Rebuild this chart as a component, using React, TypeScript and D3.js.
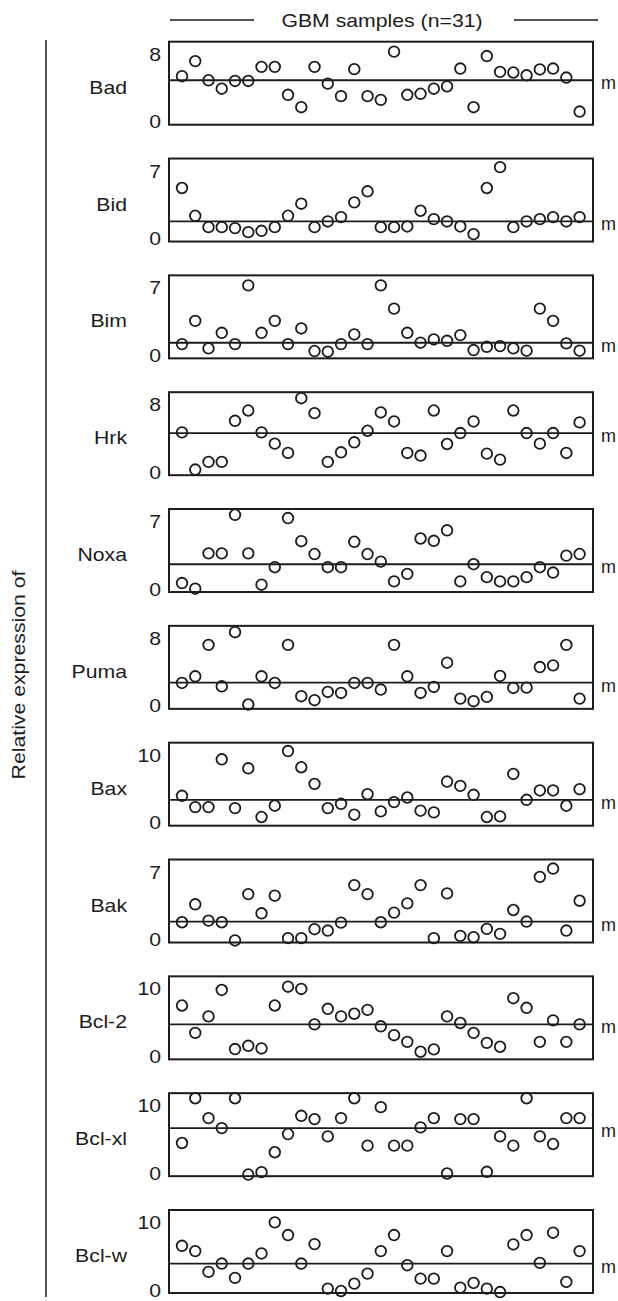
import React from 'react';
import * as d3 from 'd3';

// ---- data ----
const genes = ['Bad', 'Bid', 'Bim', 'Hrk', 'Noxa', 'Puma', 'Bax', 'Bak', 'Bcl-2', 'Bcl-xl', 'Bcl-w'];
const topTicks = [8, 7, 7, 8, 7, 8, 10, 7, 10, 10, 10];
const medians = [4.91, 1.77, 1.31, 4.64, 2.57, 2.75, 3.39, 1.86, 4.74, 6.68, 3.92];

const badValues = [5.39, 7.18, 4.91, 3.91, 4.83, 4.83, 6.5, 6.5, 3.19, 1.72, 6.5, 4.51, 3.03, 6.23, 3.03, 2.59, 8.3, 3.19, 3.31, 3.91, 4.19, 6.3, 1.72, 7.78, 5.9, 5.83, 5.5, 6.19, 6.3, 5.23, 1.2];
const bidValues = [5.24, 2.36, 1.18, 1.18, 1.08, 0.66, 0.8, 1.18, 2.36, 3.61, 1.18, 1.77, 2.22, 3.75, 4.9, 1.18, 1.18, 1.25, 2.88, 2.01, 1.77, 1.25, 0.45, 5.24, 7.4, 1.18, 1.77, 2.01, 2.22, 1.77, 2.22];
const bimValues = [1.17, 3.58, 0.72, 2.34, 1.17, 7.26, 2.34, 3.58, 1.17, 2.79, 0.45, 0.38, 1.17, 2.17, 1.17, 7.26, 4.85, 2.34, 1.31, 1.65, 1.51, 2.1, 0.55, 0.89, 0.96, 0.72, 0.48, 4.85, 3.58, 1.24, 0.48];
const hrkValues = [4.72, 0.31, 1.22, 1.22, 6.09, 7.31, 4.72, 3.38, 2.28, 8.77, 7.0, 1.22, 2.36, 3.54, 4.91, 7.08, 6.01, 2.28, 1.97, 7.31, 3.34, 4.64, 6.01, 2.2, 1.49, 7.31, 4.64, 3.38, 4.64, 2.28, 5.9];
const noxaValues = [0.62, 0.03, 3.7, 3.7, 7.7, 3.7, 0.45, 2.26, 7.36, 4.96, 3.63, 2.26, 2.26, 4.9, 3.63, 2.84, 0.79, 1.57, 5.24, 5.0, 6.09, 0.79, 2.57, 1.23, 0.79, 0.79, 1.23, 2.26, 1.71, 3.46, 3.63];
const pumaValues = [2.71, 3.5, 7.23, 2.32, 8.73, 0.16, 3.5, 2.71, 7.23, 1.14, 0.67, 1.65, 1.53, 2.71, 2.71, 1.93, 7.23, 3.5, 1.53, 2.24, 5.11, 0.86, 0.55, 1.06, 3.54, 2.12, 2.16, 4.6, 4.8, 7.23, 0.86];
const baxValues = [3.98, 2.31, 2.31, 9.39, 2.16, 8.06, 0.84, 2.51, 10.61, 8.21, 5.75, 2.16, 2.8, 1.18, 4.23, 1.67, 3.05, 3.73, 1.77, 1.52, 6.09, 5.45, 4.13, 0.84, 0.93, 7.22, 3.39, 4.77, 4.77, 2.51, 4.96];
const bakValues = [1.79, 3.65, 1.96, 1.79, -0.1, 4.71, 2.72, 4.54, 0.14, 0.14, 1.07, 0.93, 1.75, 5.64, 4.71, 1.79, 2.79, 3.75, 5.64, 0.14, 4.78, 0.38, 0.24, 1.1, 0.58, 3.06, 1.86, 6.5, 7.36, 0.93, 4.02];
const bcl2Values = [7.53, 3.47, 5.92, 9.83, 1.08, 1.56, 1.17, 7.53, 10.32, 9.98, 4.74, 7.04, 5.92, 6.31, 6.89, 4.45, 3.13, 2.15, 0.68, 1.03, 5.92, 4.94, 3.47, 2.0, 1.42, 8.61, 7.19, 2.15, 5.33, 2.15, 4.74];
const bclxlValues = [4.47, 11.1, 8.16, 6.68, 11.1, -0.2, 0.15, 3.1, 5.8, 8.5, 8.01, 5.45, 8.16, 11.1, 4.08, 9.78, 4.08, 4.08, 6.78, 8.16, -0.05, 8.01, 8.01, 0.2, 5.45, 4.08, 11.1, 5.45, 4.32, 8.16, 8.16];
const bclwValues = [6.55, 5.76, 2.68, 3.92, 1.79, 3.92, 5.41, 10.02, 8.14, 3.92, 6.8, 0.2, -0.15, 0.94, 2.43, 5.76, 8.14, 3.67, 1.69, 1.69, 5.76, 0.35, 1.04, 0.2, -0.3, 6.75, 8.14, 4.02, 8.49, 1.19, 5.76];

const series = [badValues, bidValues, bimValues, hrkValues, noxaValues, pumaValues, baxValues, bakValues, bcl2Values, bclxlValues, bclwValues];

const title = 'GBM samples (n=31)';
const yLabel = 'Relative expression of';
const medianLabel = 'm';

// ---- layout ----
const W = 618;
const H = 1301;
const boxLeft = 169;
const boxRight = 593;
const firstTop = 41.7;
const step = 116.83;
const boxH = 83;
const ink = '#1c1c1c';
const FONT = '"Liberation Sans", Arial, Helvetica, sans-serif';
const FS = 18;
const SX = 1.18;

const STextEl = ({ x, y, anchor = 'start', children, rotate = 0, sx = SX }: any) => (
  <text
    transform={`translate(${x},${y})${rotate ? ` rotate(${rotate})` : ''} scale(${sx},1)`}
    textAnchor={anchor}
    fontFamily={FONT}
    fontSize={FS}
    fill={ink}
  >
    {children}
  </text>
);

export default function App() {
  const n = badValues.length;
  const x = d3.scalePoint<number>().domain(d3.range(n)).range([182, 579.6]);

  return (
    <svg
      width={W}
      height={H}
      viewBox={`0 0 ${W} ${H}`}
      style={{ position: 'absolute', left: 0, top: 0, background: '#fff' }}
    >
      {/* title with side rules */}
      <line x1={170} x2={254} y1={20} y2={20} stroke={ink} strokeWidth={1.4} />
      <line x1={514} x2={598} y1={20} y2={20} stroke={ink} strokeWidth={1.4} />
      <STextEl x={382} y={27} anchor="middle">{title}</STextEl>

      {/* left bracket line and y label */}
      <line x1={46} x2={46} y1={40} y2={1297} stroke={ink} strokeWidth={1.5} />
      <STextEl x={25} y={675} anchor="middle" rotate={-90}>{yLabel}</STextEl>

      {genes.map((g, i) => {
        const top = firstTop + i * step;
        const bottom = top + boxH;
        const y = d3.scaleLinear().domain([0, topTicks[i]]).range([bottom - 3, top + 12.5]);
        const vals = series[i];
        const my = y(medians[i]);
        return (
          <g key={g}>
            <rect x={boxLeft} y={top} width={boxRight - boxLeft} height={boxH} fill="none" stroke={ink} strokeWidth={2} />
            <line x1={boxLeft} x2={boxRight} y1={my} y2={my} stroke={ink} strokeWidth={1.8} />
            {vals.map((v, j) => (
              <circle key={j} cx={x(j)} cy={y(v)} r={5.3} fill="none" stroke={ink} strokeWidth={1.8} />
            ))}
            <STextEl x={127} y={top + boxH / 2 + 10.5} anchor="end">{g}</STextEl>
            <STextEl x={161} y={y(topTicks[i]) + 6.5} anchor="end">{String(topTicks[i])}</STextEl>
            <STextEl x={161} y={y(0) + 6.5} anchor="end">0</STextEl>
            <STextEl x={601} y={my + 9} anchor="start" sx={1}>{medianLabel}</STextEl>
          </g>
        );
      })}
    </svg>
  );
}
